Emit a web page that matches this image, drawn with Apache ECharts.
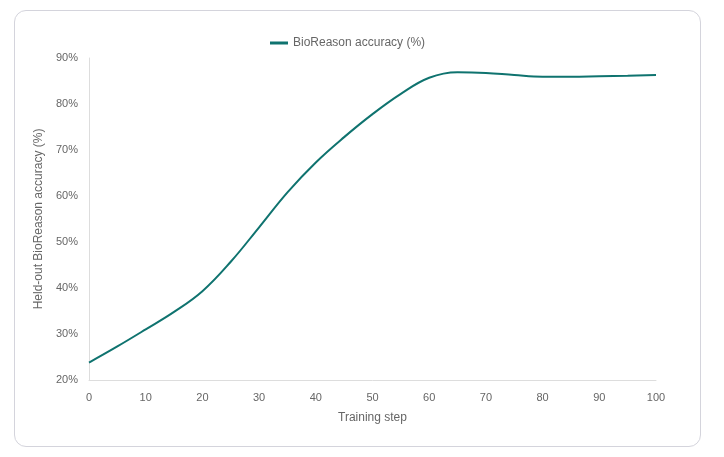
<!DOCTYPE html>
<html>
<head>
<meta charset="utf-8">
<script src="https://cdn.jsdelivr.net/npm/echarts@6/dist/echarts.min.js"></script>
<style>
  html, body { margin: 0; padding: 0; background: #fff; }
  #card {
    position: absolute; left: 14px; top: 10px; width: 685px; height: 435px;
    border: 1px solid #d4d4dc; border-radius: 12px; box-sizing: content-box;
  }
  #main { position: absolute; left: 0; top: 0; width: 724px; height: 457px; }
</style>
</head>
<body>
<div id="card"></div>
<div id="main"></div>
<script>
var steps = [0, 5, 10, 15, 20, 25, 30, 35, 40, 45, 50, 55, 60, 65, 70, 75, 80, 85, 90, 95, 100];
var accuracy = [23.8, 27.3, 31.0, 34.8, 39.3, 45.7, 53.2, 60.8, 67.3, 72.8, 77.8, 82.2, 85.7, 86.9, 86.75, 86.3, 85.95, 85.95, 86.05, 86.15, 86.3];
var seriesName = 'BioReason accuracy (%)';

var chart = echarts.init(document.getElementById('main'));
var font = 'Arial, "Liberation Sans", sans-serif';

var option = {
  textStyle: { fontFamily: font },
  legend: {
    left: 265,
    top: 32,
    itemWidth: 18,
    itemHeight: 3,
    textStyle: { color: '#666', fontSize: 12, fontFamily: font },
    data: [{ name: seriesName, icon: 'rect' }]
  },
  grid: { left: 89, right: 68, top: 58, bottom: 77 },
  xAxis: {
    type: 'value',
    min: 0,
    max: 100,
    interval: 10,
    name: 'Training step',
    nameLocation: 'middle',
    nameGap: 32,
    nameTextStyle: { color: '#666', fontSize: 12 },
    axisLine: { lineStyle: { color: '#ddd' } },
    axisTick: { show: false },
    axisLabel: { color: '#666', fontSize: 11, margin: 12 },
    splitLine: { show: false }
  },
  yAxis: {
    type: 'value',
    min: 20,
    max: 90,
    interval: 10,
    name: 'Held-out BioReason accuracy (%)',
    nameLocation: 'middle',
    nameGap: 37,
    nameTextStyle: { color: '#666', fontSize: 12 },
    axisLine: { show: true, lineStyle: { color: '#ddd' } },
    axisTick: { show: false },
    axisLabel: { color: '#666', fontSize: 11, margin: 11, formatter: '{value}%' },
    splitLine: { show: false }
  },
  series: [{
    name: seriesName,
    type: 'line',
    smooth: 0.4,
    symbol: 'none',
    data: steps.map(function (s, i) { return [s, accuracy[i]]; }),
    lineStyle: { color: '#0f736f', width: 2 },
    itemStyle: { color: '#0f736f' }
  }]
};
chart.setOption(option);
</script>
</body>
</html>
